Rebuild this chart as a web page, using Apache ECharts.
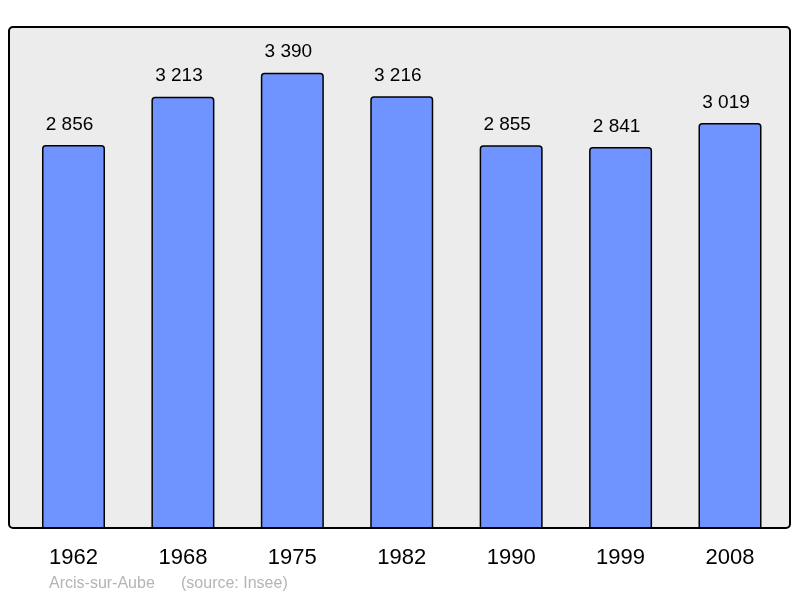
<!DOCTYPE html>
<html>
<head>
<meta charset="utf-8">
<script src="https://cdn.jsdelivr.net/npm/echarts@6/dist/echarts.min.js"></script>
<style>html,body{margin:0;padding:0;background:#fff;}#c{width:800px;height:598px;}</style>
</head>
<body>
<div id="c"></div>
<script>
const categories = ['1962', '1968', '1975', '1982', '1990', '1999', '2008'];
const population = [2856, 3213, 3390, 3216, 2855, 2841, 3019];
const placeName = 'Arcis-sur-Aube';
const sourceText = '(source: Insee)';

const fmt = v => String(v).replace(/\B(?=(\d{3})+(?!\d))/g, ' ');
const FONT = 'Liberation Sans, Arial, sans-serif';
const chart = echarts.init(document.getElementById('c'), null, {renderer: 'canvas'});
chart.setOption({
  animation: false,
  textStyle: {fontFamily: FONT},
  graphic: [
    {type: 'rect', z: -10, shape: {x: 9, y: 27, width: 781, height: 501, r: 4},
     style: {fill: '#ececec', stroke: null}},
    {type: 'rect', z: 99, silent: true, shape: {x: 0, y: 528, width: 800, height: 8},
     style: {fill: '#ffffff', stroke: null}},
    {type: 'rect', z: 100, silent: true, shape: {x: 9, y: 27, width: 781, height: 501, r: 4},
     style: {fill: 'none', stroke: '#000', lineWidth: 2}},
    {type: 'text', left: 49, top: 576, z: 100,
     style: {text: placeName, fill: '#b4b4b4', font: '16px ' + FONT}},
    {type: 'text', left: 181, top: 576, z: 100,
     style: {text: sourceText, fill: '#b4b4b4', font: '16px ' + FONT}}
  ],
  grid: {left: 18.8, right: 15.3, top: 27, bottom: 66.3},
  xAxis: {
    type: 'category', data: categories,
    axisLine: {show: false}, axisTick: {show: false},
    axisLabel: {color: '#000', fontSize: 22, margin: 15, fontFamily: FONT}
  },
  yAxis: {type: 'value', min: 0, max: 3727.8, show: false, splitLine: {show: false}},
  series: [{
    type: 'bar', data: population, barWidth: 63,
    itemStyle: {color: '#7094ff', borderColor: '#000', borderWidth: 1.5, borderRadius: [3, 3, 0, 0]},
    label: {show: true, position: 'top', distance: 11, offset: [-4, 0], color: '#000', fontSize: 19,
            fontFamily: FONT, formatter: p => fmt(p.value)}
  }]
});
</script>
</body>
</html>
